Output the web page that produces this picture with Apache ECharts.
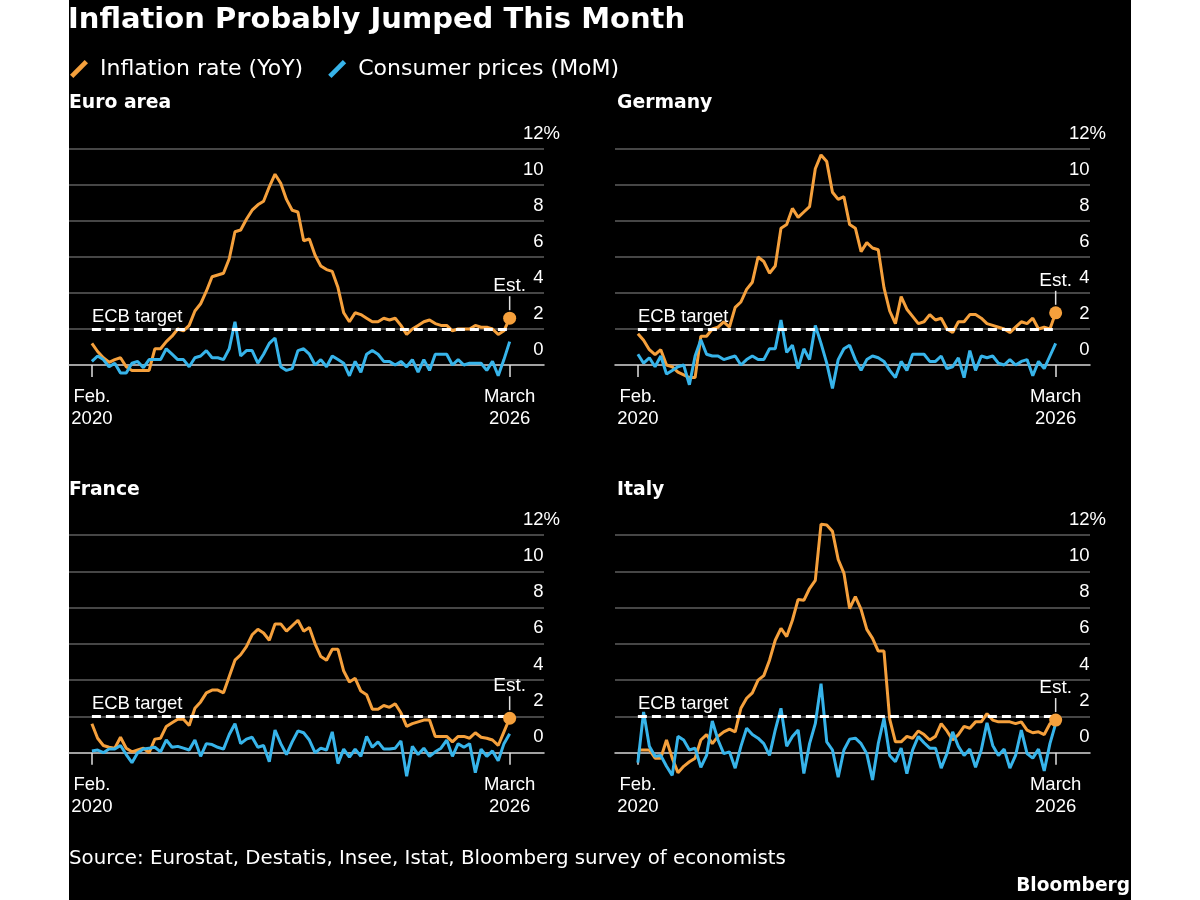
<!DOCTYPE html>
<html>
<head>
<meta charset="utf-8">
<script src="https://cdn.jsdelivr.net/npm/echarts@6/dist/echarts.min.js"></script>
<style>
html,body{margin:0;padding:0;background:#fff;}
#c{width:1200px;height:900px;background:linear-gradient(to right,#fff 0,#fff 69px,#000 69px,#000 1131px,#fff 1131px,#fff 100%);}
</style>
</head>
<body>
<div id="c"></div>
<script>
// ---- data (Feb 2020 .. March 2026, monthly; last YoY value is the estimate) ----
const seriesNames = ['Inflation rate (YoY)', 'Consumer prices (MoM)'];
const panelNames = ['Euro area', 'Germany', 'France', 'Italy'];
const xTickLabels = ['Feb.\n2020', 'March\n2026'];
const yTicks = [0, 2, 4, 6, 8, 10, 12];
const ecbTarget = 2;

const euroYoY = [1.2,0.75,0.4,0.15,0.3,0.4,-0.1,-0.3,-0.3,-0.3,-0.3,0.9,0.9,1.3,1.6,2.0,1.9,2.2,3.0,3.4,4.1,4.9,5.0,5.1,5.9,7.4,7.5,8.1,8.6,8.9,9.1,9.9,10.6,10.1,9.2,8.6,8.5,6.9,7.0,6.1,5.5,5.3,5.2,4.3,2.9,2.4,2.9,2.8,2.6,2.4,2.4,2.6,2.5,2.6,2.2,1.7,2.0,2.2,2.4,2.5,2.3,2.2,2.2,1.9,2.0,2.0,2.0,2.2,2.1,2.1,2.0,1.7,1.9,2.6];
const euroMoM = [0.2,0.5,0.3,-0.1,0.1,-0.45,-0.45,0.1,0.2,-0.15,0.3,0.3,0.3,0.9,0.6,0.3,0.3,-0.1,0.4,0.5,0.8,0.4,0.4,0.3,0.9,2.4,0.5,0.8,0.8,0.1,0.6,1.2,1.5,-0.1,-0.3,-0.2,0.8,0.9,0.6,0.0,0.3,-0.1,0.5,0.3,0.1,-0.6,0.2,-0.4,0.6,0.8,0.6,0.2,0.2,0.0,0.2,-0.1,0.3,-0.4,0.3,-0.3,0.6,0.6,0.6,0.0,0.3,0.0,0.1,0.1,0.1,-0.3,0.2,-0.6,0.3,1.3];

const germanyYoY = [1.74,1.37,0.85,0.57,0.85,0.0,-0.1,-0.4,-0.55,-0.7,-0.7,1.6,1.6,2.0,2.1,2.4,2.1,3.2,3.5,4.2,4.6,6.0,5.75,5.1,5.5,7.6,7.8,8.7,8.2,8.5,8.8,10.9,11.67,11.3,9.6,9.2,9.35,7.8,7.6,6.3,6.8,6.5,6.4,4.3,3.0,2.3,3.8,3.1,2.7,2.3,2.4,2.8,2.5,2.6,2.0,1.8,2.4,2.4,2.8,2.8,2.6,2.3,2.2,2.1,2.0,1.8,2.1,2.4,2.3,2.6,2.0,2.1,2.0,2.9];
const germanyMoM = [0.6,0.1,0.4,-0.1,0.5,-0.5,-0.3,-0.1,0.0,-1.1,0.5,1.4,0.6,0.5,0.5,0.3,0.4,0.5,0.0,0.3,0.5,0.3,0.3,0.9,0.9,2.5,0.7,1.1,-0.2,0.9,0.3,2.2,1.2,0.1,-1.3,0.3,0.9,1.1,0.3,-0.3,0.3,0.5,0.4,0.2,-0.3,-0.7,0.2,-0.3,0.6,0.6,0.6,0.2,0.2,0.5,-0.2,-0.1,0.4,-0.7,0.8,-0.3,0.5,0.4,0.5,0.1,0.0,0.3,0.0,0.2,0.3,-0.6,0.2,-0.2,0.5,1.2];

const franceYoY = [1.6,0.8,0.4,0.3,0.25,0.85,0.25,0.05,0.15,0.25,0.0,0.75,0.8,1.45,1.65,1.85,1.85,1.5,2.45,2.8,3.3,3.45,3.45,3.3,4.2,5.1,5.4,5.85,6.5,6.8,6.6,6.2,7.1,7.1,6.7,7.0,7.3,6.7,6.9,6.0,5.3,5.1,5.7,5.7,4.5,3.9,4.1,3.4,3.2,2.4,2.4,2.6,2.5,2.7,2.2,1.45,1.6,1.7,1.8,1.8,0.9,0.9,0.9,0.6,0.9,0.9,0.8,1.1,0.85,0.8,0.7,0.4,1.15,1.9];
const franceMoM = [0.1,0.15,0.0,0.2,0.2,0.4,-0.1,-0.55,0.0,0.2,0.25,0.3,0.05,0.7,0.3,0.35,0.25,0.15,0.7,-0.2,0.5,0.45,0.3,0.2,1.0,1.6,0.5,0.75,0.85,0.3,0.4,-0.5,1.25,0.5,-0.1,0.6,1.2,1.1,0.7,0.0,0.25,0.15,1.15,-0.6,0.2,-0.25,0.2,-0.2,0.9,0.3,0.6,0.2,0.2,0.25,0.65,-1.3,0.35,-0.1,0.25,-0.2,0.05,0.25,0.7,-0.2,0.5,0.3,0.5,-1.1,0.2,-0.2,0.1,-0.45,0.5,1.05];

const italyYoY = [0.15,0.15,0.15,-0.3,-0.3,0.7,-0.3,-1.1,-0.75,-0.5,-0.3,0.7,1.0,0.5,0.9,1.15,1.3,1.15,2.45,3.0,3.3,4.0,4.25,5.1,6.2,6.85,6.4,7.3,8.45,8.4,9.05,9.5,12.6,12.55,12.2,10.65,9.9,7.95,8.6,7.9,6.8,6.3,5.6,5.6,1.85,0.6,0.6,0.9,0.8,1.2,1.0,0.7,0.9,1.6,1.2,0.7,1.0,1.45,1.35,1.7,1.7,2.15,1.8,1.7,1.7,1.7,1.6,1.7,1.25,1.1,1.15,1.0,1.6,1.8];
const italyMoM = [-0.55,2.25,0.35,-0.2,-0.15,-0.75,-1.25,0.9,0.7,0.15,0.25,-0.8,-0.15,1.75,0.7,-0.05,0.05,-0.85,0.35,1.35,1.0,0.8,0.5,-0.15,1.25,2.45,0.35,0.9,1.25,-1.15,0.5,1.6,3.8,0.6,0.15,-1.35,0.15,0.75,0.8,0.5,-0.05,-1.5,0.5,1.9,-0.15,-0.5,0.25,-1.15,0.15,0.9,0.55,0.25,0.25,-0.85,-0.05,1.15,0.35,-0.15,0.2,-0.8,0.15,1.65,0.4,-0.15,0.2,-0.85,-0.15,1.25,-0.05,-0.3,0.2,-1.0,0.5,1.6];

// ---- styling / layout ----
const ORANGE = '#f5a03c', BLUE = '#37b4ea', GRIDC = '#5e5e5e';
const TXT = 'DejaVu Sans', NUM = 'Liberation Sans';
const yoyData = [euroYoY, germanyYoY, franceYoY, italyYoY];
const momData = [euroMoM, germanyMoM, franceMoM, italyMoM];
const grids = [
  {left: 69, top: 149, width: 475, height: 252},
  {left: 615, top: 149, width: 475, height: 252},
  {left: 69, top: 535, width: 475, height: 254},
  {left: 615, top: 535, width: 475, height: 254}
];
const panelTitlePos = [{left: 69, top: 94}, {left: 617, top: 94}, {left: 69, top: 481}, {left: 617, top: 481}];

const toPairs = arr => arr.map((v, i) => [i, v]);

const xAxes = [], yAxes = [], series = [];
grids.forEach((g, p) => {
  const n = yoyData[p].length;
  xAxes.push({
    type: 'value', gridIndex: p, min: -4, max: n + 5,
    axisLine: {show: true, onZero: true, lineStyle: {color: '#d6d6d6', width: 1.5}},
    axisTick: {show: true, customValues: [0, n - 1], length: 12, lineStyle: {color: '#e0e0e0', width: 1.5}},
    axisLabel: {show: true, customValues: [0, n - 1], formatter: v => (v === 0 ? xTickLabels[0] : xTickLabels[1]),
      color: '#fff', fontFamily: NUM, fontSize: 18.5, lineHeight: 22, margin: -15},
    splitLine: {show: false}
  });
  yAxes.push({
    type: 'value', gridIndex: p, position: 'right', min: -2, max: 12, interval: 2,
    axisLine: {show: false}, axisTick: {show: false},
    splitLine: {show: true, lineStyle: {color: ['rgba(0,0,0,0)', 'rgba(0,0,0,0)', GRIDC, GRIDC, GRIDC, GRIDC, GRIDC, GRIDC], width: 1.5}},
    axisLabel: {
      inside: true, margin: -16, verticalAlign: 'bottom', padding: [0, 0, 6, 0],
      formatter: v => (yTicks.indexOf(v) < 0 ? '' : (v === yTicks[yTicks.length - 1] ? '{n|' + v + '}{p|%}' : '{n|' + v + '}{h|%}')),
      rich: {
        n: {color: '#fff', fontFamily: NUM, fontSize: 18.5},
        p: {color: '#fff', fontFamily: NUM, fontSize: 18.5},
        h: {color: 'rgba(0,0,0,0)', fontFamily: NUM, fontSize: 18.5}
      }
    }
  });
  const last = yoyData[p][n - 1];
  series.push({
    name: seriesNames[0], type: 'line', xAxisIndex: p, yAxisIndex: p, data: toPairs(yoyData[p]),
    showSymbol: false, clip: false, color: ORANGE, lineStyle: {color: ORANGE, width: 3}, z: 3,
    markLine: {
      silent: true, symbol: ['none', 'none'], animation: false,
      lineStyle: {color: '#fff', width: 3, type: [9, 5]},
      label: {show: true, formatter: 'ECB target', position: 'insideStartTop', distance: [0, 3], color: '#fff', fontFamily: NUM, fontSize: 18.5},
      data: [[{coord: [0, ecbTarget]}, {coord: [n - 1, ecbTarget]}]]
    },
    markPoint: {
      silent: true, animation: false,
      data: [
        {coord: [n - 1, last], symbol: 'circle', symbolSize: 13, itemStyle: {color: ORANGE}, label: {show: false}},
        {coord: [n - 1, last], symbol: 'rect', symbolSize: [1.5, 14], symbolOffset: [0, -15], itemStyle: {color: '#e0e0e0'},
          label: {show: true, position: 'top', distance: 1, formatter: 'Est.', color: '#fff', fontFamily: NUM, fontSize: 19}}
      ]
    }
  });
  series.push({
    name: seriesNames[1], type: 'line', xAxisIndex: p, yAxisIndex: p, data: toPairs(momData[p]),
    showSymbol: false, clip: false, color: BLUE, lineStyle: {color: BLUE, width: 3}, z: 4
  });
});

const titles = [
  {text: 'Inflation Probably Jumped This Month', left: 68, top: 6, padding: 0,
    textStyle: {color: '#fff', fontFamily: TXT, fontWeight: 'bold', fontSize: 29}}
];
panelNames.forEach((name, p) => titles.push({text: name, left: panelTitlePos[p].left, top: panelTitlePos[p].top, padding: 0,
  textStyle: {color: '#fff', fontFamily: TXT, fontWeight: 'bold', fontSize: 18.8}}));
titles.push({text: 'Source: Eurostat, Destatis, Insee, Istat, Bloomberg survey of economists', left: 69, top: 849, padding: 0,
  textStyle: {color: '#fff', fontFamily: TXT, fontWeight: 'normal', fontSize: 19.8}});
titles.push({text: 'Bloomberg', right: 70, top: 877, padding: 0,
  textStyle: {color: '#fff', fontFamily: TXT, fontWeight: 'bold', fontSize: 18.6}});

const chart = echarts.init(document.getElementById('c'));
chart.setOption({
  backgroundColor: 'transparent',
  animation: false,
  title: titles,
  legend: {
    left: 70, top: 58, padding: 0, itemWidth: 18, itemHeight: 18, itemGap: 25, selectedMode: false,
    icon: 'path://M0.4,14.4 L3.6,17.6 L17.6,3.6 L14.4,0.4 Z',
    data: seriesNames,
    textStyle: {color: '#fff', fontFamily: TXT, fontSize: 22, padding: [0, 0, 0, 7]}
  },
  grid: grids,
  xAxis: xAxes,
  yAxis: yAxes,
  series: series
});
</script>
</body>
</html>
